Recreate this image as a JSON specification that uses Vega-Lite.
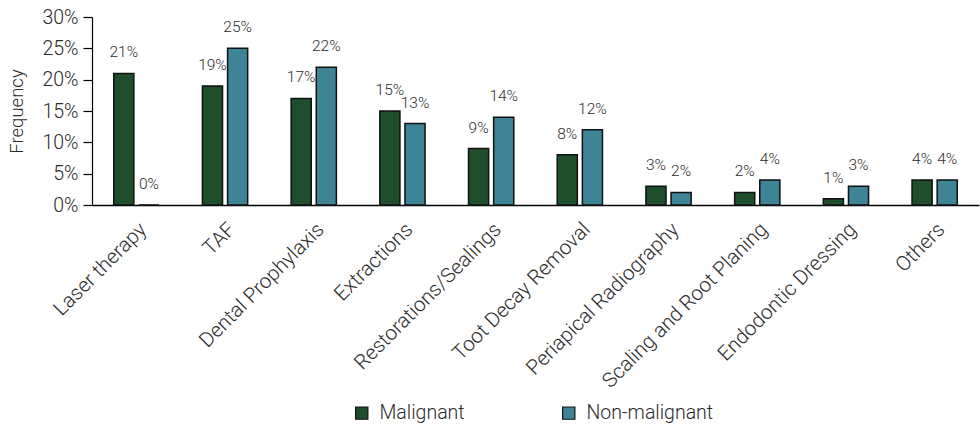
{
  "$schema": "https://vega.github.io/schema/vega-lite/v6.json",
  "width": 887,
  "height": 188,
  "autosize": {"type": "none"},
  "padding": {"left": 92, "top": 17, "right": 1, "bottom": 220},
  "background": "white",
  "config": {
    "view": {"stroke": null},
    "font": "Roboto",
    "axis": {"labelFont": "Roboto", "titleFont": "Roboto", "labelColor": "#2b2b2b", "titleColor": "#2b2b2b", "labelFontWeight": 300, "titleFontWeight": 300, "domainColor": "#000000", "tickColor": "#000000", "grid": false}
  },
  "data": {
    "values": [
      {"cat": "Laser therapy", "group": "Malignant", "v": 0.21},
      {"cat": "Laser therapy", "group": "Non-malignant", "v": 0.0},
      {"cat": "TAF", "group": "Malignant", "v": 0.19},
      {"cat": "TAF", "group": "Non-malignant", "v": 0.25},
      {"cat": "Dental Prophylaxis", "group": "Malignant", "v": 0.17},
      {"cat": "Dental Prophylaxis", "group": "Non-malignant", "v": 0.22},
      {"cat": "Extractions", "group": "Malignant", "v": 0.15},
      {"cat": "Extractions", "group": "Non-malignant", "v": 0.13},
      {"cat": "Restorations/Sealings", "group": "Malignant", "v": 0.09},
      {"cat": "Restorations/Sealings", "group": "Non-malignant", "v": 0.14},
      {"cat": "Toot Decay Removal", "group": "Malignant", "v": 0.08},
      {"cat": "Toot Decay Removal", "group": "Non-malignant", "v": 0.12},
      {"cat": "Periapical Radiography", "group": "Malignant", "v": 0.03},
      {"cat": "Periapical Radiography", "group": "Non-malignant", "v": 0.02},
      {"cat": "Scaling and Root Planing", "group": "Malignant", "v": 0.02},
      {"cat": "Scaling and Root Planing", "group": "Non-malignant", "v": 0.04},
      {"cat": "Endodontic Dressing", "group": "Malignant", "v": 0.01},
      {"cat": "Endodontic Dressing", "group": "Non-malignant", "v": 0.03},
      {"cat": "Others", "group": "Malignant", "v": 0.04},
      {"cat": "Others", "group": "Non-malignant", "v": 0.04}
    ]
  },
  "encoding": {
    "x": {
      "field": "cat", "type": "nominal", "sort": null,
      "scale": {"paddingInner": 0.49, "paddingOuter": 0.245},
      "axis": {"title": null, "labelAngle": -45, "labelFontSize": 20.5, "labelLimit": 400, "ticks": false, "labelPadding": 14, "domainWidth": 1.5}
    },
    "xOffset": {"field": "group", "type": "nominal", "scale": {"paddingInner": 0.2, "paddingOuter": 0}},
    "y": {
      "field": "v", "type": "quantitative",
      "scale": {"domain": [0, 0.3]},
      "axis": {"title": "Frequency", "format": ".0%", "values": [0, 0.05, 0.1, 0.15, 0.2, 0.25, 0.3], "labelFontSize": 19.5, "titleFontSize": 18.5, "tickSize": 9, "labelPadding": 5, "titlePadding": 15, "domainWidth": 1.2, "tickWidth": 1.2}
    }
  },
  "layer": [
    {
      "mark": {"type": "bar", "stroke": "#111111", "strokeWidth": 1.5},
      "encoding": {
        "color": {
          "field": "group", "type": "nominal",
          "scale": {"domain": ["Malignant", "Non-malignant"], "range": ["#1f4e2d", "#3e8396"]},
          "legend": {
            "title": null, "orient": "none", "legendX": 260, "legendY": 386, "direction": "horizontal",
            "symbolType": "square", "symbolSize": 150, "symbolStrokeColor": "#111111", "symbolStrokeWidth": 1.2,
            "labelFontSize": 19.5, "labelFont": "Roboto", "labelFontWeight": 300, "labelColor": "#2b2b2b",
            "columnPadding": 94, "labelOffset": 8
          }
        }
      }
    },
    {
      "mark": {"type": "text", "dy": -21, "fontSize": 15.5, "font": "Roboto", "fontWeight": 300, "color": "#2b2b2b"},
      "encoding": {
        "text": {"field": "v", "type": "quantitative", "format": ".0%"}
      }
    }
  ]
}
